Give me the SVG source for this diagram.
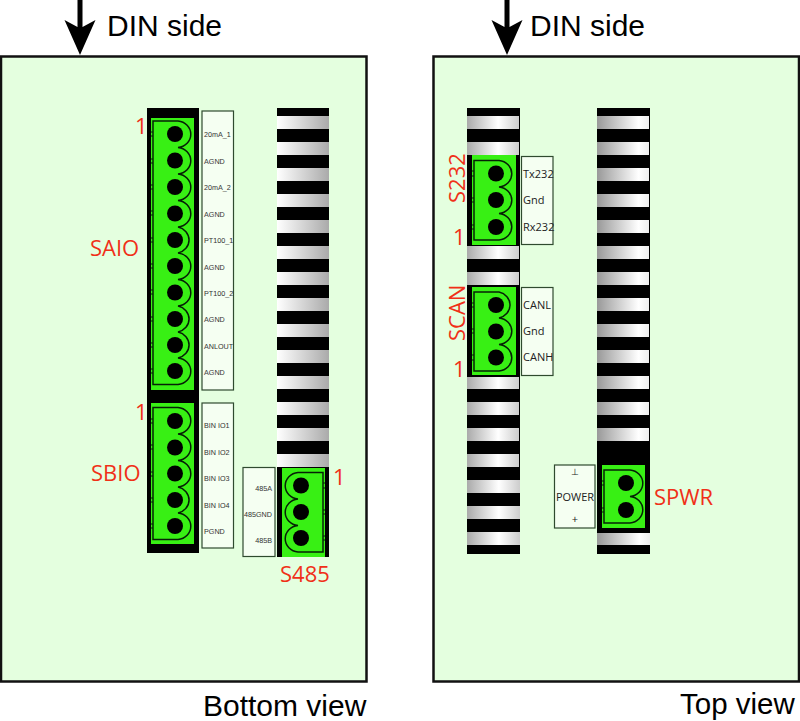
<svg xmlns="http://www.w3.org/2000/svg" width="800" height="721" viewBox="0 0 800 721">
<style>
.panel{fill:#e4ffdf;stroke:#111;stroke-width:2.5}
.blk{fill:#000}
.green{fill:#38f014}
.out{fill:none;stroke:#062006;stroke-width:1.5}
.tick{fill:none;stroke:#062006;stroke-width:1.2}
.hole{fill:#000}
.box{fill:#f5fff2;stroke:#2f4a2f;stroke-width:1.2}
.pin{font:7.200px "Liberation Sans",Arial,sans-serif;fill:#333;text-rendering:geometricPrecision}
.pin2{font:11px "Open Sans",sans-serif;fill:#222}
.red{font:22px "Open Sans",sans-serif;fill:#f03018}
.big{font:30px "Liberation Sans",Arial,sans-serif;fill:#000}
.wl{fill:url(#gl)}
.wm{fill:url(#gm)}
.wr{fill:url(#gr)}
</style>
<defs>
<linearGradient id="gl"><stop offset="0" stop-color="#fff"/><stop offset="1" stop-color="#aaa"/></linearGradient>
<linearGradient id="gm"><stop offset="0" stop-color="#aaa"/><stop offset=".6" stop-color="#fff"/><stop offset="1" stop-color="#ccc"/></linearGradient>
<linearGradient id="gr"><stop offset="0" stop-color="#999"/><stop offset=".8" stop-color="#fff"/><stop offset="1" stop-color="#eee"/></linearGradient>
<path id="arrow" d="M-2.500 0H2.500V27L15.500 20L0 55L-15.500 20L-2.500 27Z" fill="#000"/>
<g id="stripes">
<rect x="0" y="8" width="52" height="13"/><rect x="0" y="34" width="52" height="13"/><rect x="0" y="60" width="52" height="13"/><rect x="0" y="86" width="52" height="13"/><rect x="0" y="112" width="52" height="13"/><rect x="0" y="138" width="52" height="13"/><rect x="0" y="164" width="52" height="13"/><rect x="0" y="190" width="52" height="13"/><rect x="0" y="216" width="52" height="13"/><rect x="0" y="242" width="52" height="13"/><rect x="0" y="268" width="52" height="13"/><rect x="0" y="294" width="52" height="13"/><rect x="0" y="320" width="52" height="13"/><rect x="0" y="346" width="52" height="13"/>
</g>
</defs>
<g id="panel-bottom"><rect class="panel" x="1" y="56.500" width="365.500" height="625"/></g>
<g id="panel-top"><rect class="panel" x="433.500" y="56.500" width="365.500" height="625"/></g>
<g id="din-left"><use href="#arrow" x="80" y="0"/><text class="big" x="107" y="36">DIN side</text></g>
<g id="din-right"><use href="#arrow" x="507" y="0"/><text class="big" x="530" y="36">DIN side</text></g>

<g id="strip-blank-left"><rect class="blk" x="277" y="108" width="52" height="360"/><use href="#stripes" x="277" y="108" class="wl"/></g>
<g id="strip-a"><rect class="blk" x="467" y="108" width="53" height="446"/><use href="#stripes" x="467" y="108" class="wm"/><rect class="wm" x="467" y="480" width="53" height="13"/><rect class="wm" x="467" y="506" width="53" height="13"/><rect class="wm" x="467" y="532" width="53" height="13"/></g>
<g id="strip-b"><rect class="blk" x="597" y="108" width="53" height="446"/><use href="#stripes" x="597" y="108" class="wr"/><rect class="blk" x="597" y="441" width="53" height="92"/><rect class="wr" x="597" y="533" width="53" height="12"/></g>

<g id="SAIO">
<rect class="blk" x="147" y="108" width="52" height="445"/>
<rect class="green" x="151" y="118" width="43" height="272"/>
<path class="out" d="M153 121H178A14 13.300 0 0 1 178 147.500A14 13.300 0 0 1 178 174A14 13.300 0 0 1 178 200.500A14 13.300 0 0 1 178 227A14 13.300 0 0 1 178 253A14 13.300 0 0 1 178 279.500A14 13.300 0 0 1 178 306A14 13.300 0 0 1 178 332A14 13.300 0 0 1 178 358A14 13.300 0 0 1 178 384.500H153Z"/>
<path class="tick" d="M151 132H153M151 136H153M151 159H153M151 163H153M151 185H153M151 189H153M151 211H153M151 215H153M151 238H153M151 242H153M151 264H153M151 268H153M151 290H153M151 294H153M151 317H153M151 321H153M151 343H153M151 347H153M151 369H153M151 373H153"/>
<g class="hole"><circle cx="175" cy="134" r="8"/><circle cx="175" cy="160.500" r="8"/><circle cx="175" cy="187" r="8"/><circle cx="175" cy="213.500" r="8"/><circle cx="175" cy="240" r="8"/><circle cx="175" cy="266" r="8"/><circle cx="175" cy="292.500" r="8"/><circle cx="175" cy="319" r="8"/><circle cx="175" cy="345" r="8"/><circle cx="175" cy="371" r="8"/></g>
<rect class="box" x="202" y="111" width="31.500" height="279"/>
<g class="pin"><text x="204" y="137">20mA_1</text><text x="204" y="164">AGND</text><text x="204" y="190">20mA_2</text><text x="204" y="217">AGND</text><text x="204" y="243">PT100_1</text><text x="204" y="270">AGND</text><text x="204" y="296">PT100_2</text><text x="204" y="322">AGND</text><text x="204" y="349">ANLOUT</text><text x="204" y="375">AGND</text></g>
<text class="red" x="135" y="134">1</text><text class="red" x="90" y="256">SAIO</text>
</g>

<g id="SBIO">
<rect class="green" x="151" y="403" width="43" height="141"/>
<path class="out" d="M153 407.500H178A14 13.300 0 0 1 178 434A14 13.300 0 0 1 178 460.500A14 13.300 0 0 1 178 487A14 13.300 0 0 1 178 513A14 13.300 0 0 1 178 539.500H153Z"/>
<path class="tick" d="M151 419H153M151 423H153M151 445H153M151 449H153M151 472H153M151 476H153M151 498H153M151 502H153M151 524H153M151 528H153"/>
<g class="hole"><circle cx="175" cy="421" r="8"/><circle cx="175" cy="447.500" r="8"/><circle cx="175" cy="473.500" r="8"/><circle cx="175" cy="500" r="8"/><circle cx="175" cy="526" r="8"/></g>
<rect class="box" x="202" y="403" width="31.500" height="145"/>
<g class="pin"><text x="204" y="428">BIN IO1</text><text x="204" y="455">BIN IO2</text><text x="204" y="481">BIN IO3</text><text x="204" y="508">BIN IO4</text><text x="204" y="534">PGND</text></g>
<text class="red" x="135" y="420">1</text><text class="red" x="91" y="481">SBIO</text>
</g>

<g id="S485">
<rect class="blk" x="277" y="467" width="52" height="90"/>
<rect class="green" x="282" y="468" width="43" height="89"/>
<path class="out" d="M323 472.500H298A14 13.300 0 0 0 298 499A14 13.300 0 0 0 298 525.500A14 13.300 0 0 0 298 552H323Z"/>
<path class="tick" d="M323 483H325M323 488H325M323 510H325M323 514H325M323 536H325M323 540H325"/>
<g class="hole"><circle cx="301" cy="485.500" r="8"/><circle cx="301" cy="512" r="8"/><circle cx="301" cy="538" r="8"/></g>
<rect class="box" x="243" y="467.500" width="32" height="89"/>
<g class="pin" text-anchor="end"><text x="272" y="491">485A</text><text x="272" y="517">485GND</text><text x="272" y="543">485B</text></g>
<text class="red" x="333" y="485">1</text><text class="red" x="280" y="582">S485</text>
</g>

<g id="S232">
<rect class="blk" x="467" y="155" width="53" height="91"/>
<rect class="green" x="472" y="155" width="44" height="90"/>
<path class="out" d="M474 160.500H499A14 13.300 0 0 1 499 187A14 13.300 0 0 1 499 213.500A14 13.300 0 0 1 499 240H474Z"/>
<path class="tick" d="M472 171H474M472 176H474M472 198H474M472 202H474M472 225H474M472 229H474"/>
<g class="hole"><circle cx="496" cy="173.500" r="8"/><circle cx="496" cy="200" r="8"/><circle cx="496" cy="227" r="8"/></g>
<rect class="box" x="521.500" y="156.500" width="31.500" height="88"/>
<g class="pin2"><text x="523" y="178">Tx232</text><text x="523" y="204">Gnd</text><text x="523" y="231">Rx232</text></g>
<text class="red" transform="translate(465,203) rotate(-90)">S232</text><text class="red" x="453" y="245">1</text>
</g>

<g id="SCAN">
<rect class="blk" x="467" y="286" width="53" height="91"/>
<rect class="green" x="472" y="287" width="44" height="88"/>
<path class="out" d="M474 292H499A14 13.300 0 0 1 499 318A14 13.300 0 0 1 499 344.500A14 13.300 0 0 1 499 371H474Z"/>
<path class="tick" d="M472 303H474M472 307H474M472 329H474M472 333H474M472 355H474M472 360H474"/>
<g class="hole"><circle cx="496" cy="305" r="8"/><circle cx="496" cy="331.500" r="8"/><circle cx="496" cy="357.500" r="8"/></g>
<rect class="box" x="521.500" y="287.500" width="31.500" height="88"/>
<g class="pin2"><text x="523" y="309">CANL</text><text x="523" y="335">Gnd</text><text x="523" y="361">CANH</text></g>
<text class="red" transform="translate(465,341) rotate(-90)">SCAN</text><text class="red" x="453" y="377">1</text>
</g>

<g id="SPWR">
<rect class="green" x="602" y="465" width="43" height="63"/>
<path class="out" d="M604 470H630A14 13.300 0 0 1 630 496.500A14 13.300 0 0 1 630 523H604Z"/>
<path class="tick" d="M602 481H604M602 485H604M602 508H604M602 512H604"/>
<g class="hole"><circle cx="626" cy="483" r="8"/><circle cx="626" cy="510" r="8"/></g>
<rect class="box" x="554.500" y="465" width="40.500" height="63"/>
<g class="pin2" text-anchor="middle"><text x="575" y="475" font-size="9">⊥</text><text x="575" y="501">POWER</text><text x="575" y="523">+</text></g>
<text class="red" x="654" y="505">SPWR</text>
</g>

<text class="big" x="203" y="716">Bottom view</text>
<text class="big" x="680" y="714" style="font-size:29.500px">Top view</text>
</svg>
